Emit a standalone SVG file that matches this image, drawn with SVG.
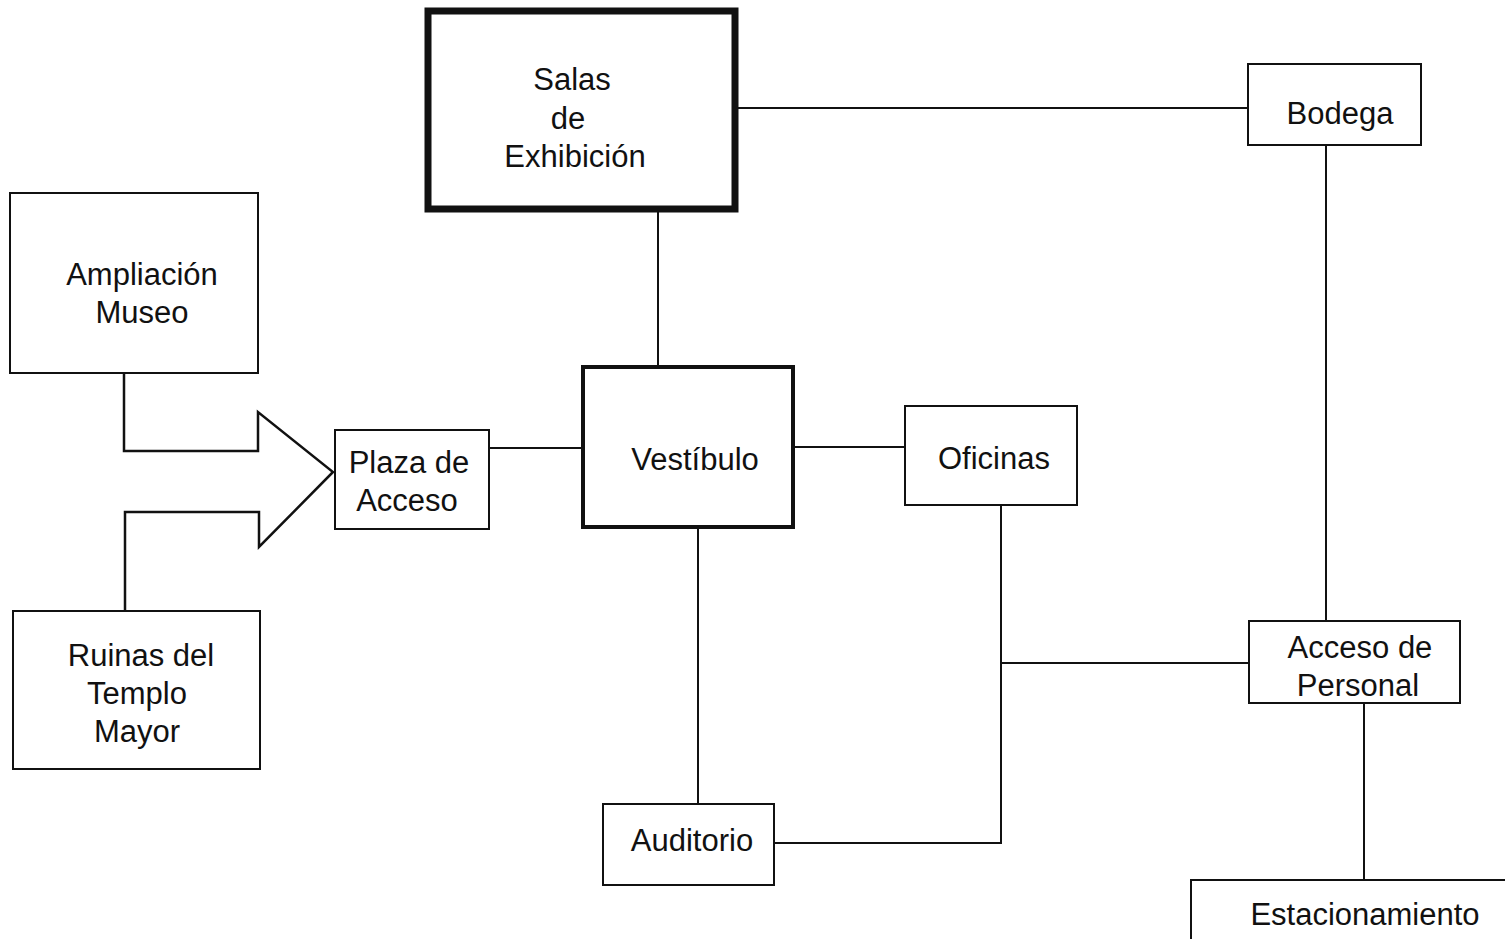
<svg xmlns="http://www.w3.org/2000/svg" width="1505" height="939" viewBox="0 0 1505 939">
<style>
.box{fill:#fff;stroke:#111;stroke-width:2}
.thick{stroke-width:7}
.med{stroke-width:4}
.ln{fill:none;stroke:#111;stroke-width:2}
text{font-family:"Liberation Sans",Arial,sans-serif;font-size:31px;fill:#111;text-anchor:middle}
</style>
<rect width="1505" height="939" fill="#fff"/>
<g id="connectors">
<path class="ln" d="M738,108 H1248"/>
<path class="ln" d="M1326,145 V621"/>
<path class="ln" d="M1364,703 V880"/>
<path class="ln" d="M658,212 V367"/>
<path class="ln" d="M793,447 H905"/>
<path class="ln" d="M1001,505 V843 H775"/>
<path class="ln" d="M1001,663 H1249"/>
<path class="ln" d="M698,527 V804"/>
<path class="ln" d="M489,448 H583"/>
<path class="ln" style="stroke-width:2.5" d="M124,373 V451 H258 V412 L333,472 L259,547 V512 H125 V611"/>
</g>
<g id="salas">
<rect class="box thick" x="428" y="11" width="307" height="198"/>
<text x="572" y="90">Salas</text>
<text x="568" y="129">de</text>
<text x="575" y="167">Exhibición</text>
</g>
<g id="bodega">
<rect class="box" x="1248" y="64" width="173" height="81"/>
<text x="1340" y="124">Bodega</text>
</g>
<g id="ampliacion">
<rect class="box" x="10" y="193" width="248" height="180"/>
<text x="142" y="285">Ampliación</text>
<text x="142" y="323">Museo</text>
</g>
<g id="ruinas">
<rect class="box" x="13" y="611" width="247" height="158"/>
<text x="141" y="666">Ruinas del</text>
<text x="137" y="704">Templo</text>
<text x="137" y="742">Mayor</text>
</g>
<g id="plaza">
<rect class="box" x="335" y="430" width="154" height="99"/>
<text x="409" y="473">Plaza de</text>
<text x="407" y="511">Acceso</text>
</g>
<g id="vestibulo">
<rect class="box med" x="583" y="367" width="210" height="160"/>
<text x="695" y="470">Vestíbulo</text>
</g>
<g id="oficinas">
<rect class="box" x="905" y="406" width="172" height="99"/>
<text x="994" y="469">Oficinas</text>
</g>
<g id="auditorio">
<rect class="box" x="603" y="804" width="171" height="81"/>
<text x="692" y="851">Auditorio</text>
</g>
<g id="acceso-personal">
<rect class="box" x="1249" y="621" width="211" height="82"/>
<text x="1360" y="658">Acceso de</text>
<text x="1358" y="696">Personal</text>
</g>
<g id="estacionamiento">
<rect class="box" x="1191" y="880" width="330" height="80"/>
<text x="1365" y="925">Estacionamiento</text>
</g>
</svg>
